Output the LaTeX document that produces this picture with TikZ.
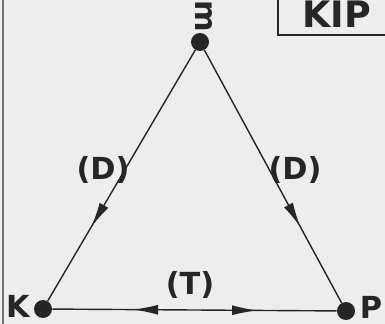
\documentclass[tikz,border=0pt]{standalone}
\usepackage{fontspec}
\setmainfont{DejaVu Sans}
\usetikzlibrary{arrows.meta,decorations.markings}

\tikzset{
  dot/.style={circle,fill=black!85,inner sep=0pt,minimum size=0.36cm},
  lbl/.style={font=\LARGE\bfseries,text=black!85,inner sep=0pt},
  edge/.style={line width=0.8pt,black!85},
  midtip/.tip={Latex[length=5mm,width=2mm]}
}

\begin{document}
\begin{tikzpicture}[x=0.02cm,y=-0.02cm]
\fill[black!7] (0,0) rectangle (385,324);
\useasboundingbox (0,0) rectangle (385,324);
\draw[black!55,line width=1.2pt] (3,0) -- (3,324);
% box in the corner
\draw[line width=0.8pt,black!85] (278,-5) |- (392,35);
\node[lbl,font=\huge\bfseries] (kip) at (337,14) {KIP};
% vertices
\node[dot] (M) at (200,42) {};
\node[dot] (K) at (43,309) {};
\node[dot] (P) at (346,311) {};
\node[lbl,rotate=-90] (lM) at (204,16) {m};
\node[lbl] (lK) at (18,306) {K};
\node[lbl] (lP) at (371,307) {P};
% sides
\draw[edge,postaction={decorate},decoration={markings,mark=at position 0.705 with {\arrow{midtip}}}] (M) -- (K);
\draw[edge,postaction={decorate},decoration={markings,mark=at position 0.70 with {\arrow{midtip}}}] (M) -- (P);
\draw[edge,postaction={decorate},decoration={markings,
  mark=at position 0.284 with {\arrowreversed{midtip}},
  mark=at position 0.72 with {\arrow{midtip}}}] (K) -- (P);
\node[lbl] (lD1) at (103,170) {(D)};
\node[lbl] (lD2) at (295,170) {(D)};
\node[lbl] (lT) at (190,285) {(T)};
\end{tikzpicture}
\end{document}
